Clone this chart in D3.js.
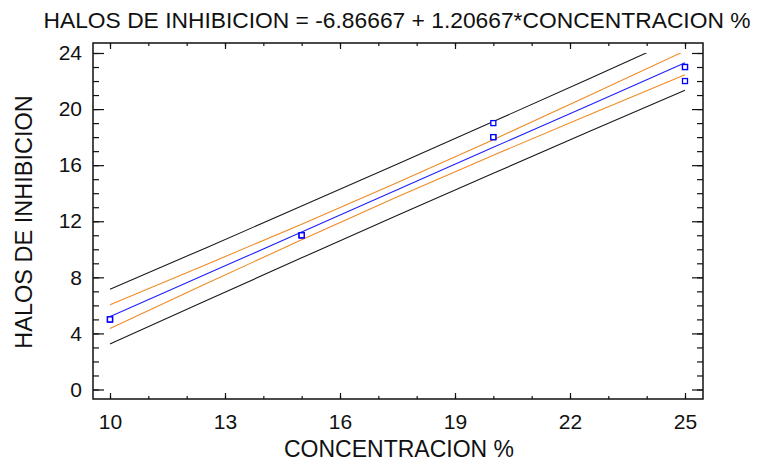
<!DOCTYPE html>
<html lang="es">
<head>
<meta charset="UTF-8">
<title>Halos de inhibicion</title>
<script src="https://cdn.jsdelivr.net/npm/d3@7/dist/d3.min.js"></script>
<style>
    body { margin: 0; background: #fff; }
    svg { font-family: "Liberation Sans", Arial, sans-serif; }
    .axis path { display: none; }
    .axis line { stroke: #111; stroke-width: 1.2px; }
    .axis text { font-size: 21px; fill: #111; }
    path.band { fill: none; stroke-width: 1.1px; }
</style>
</head>
<body>
<svg width="757" height="468"></svg>
<script>
    // observed points
    let concX = [10, 10, 10, 15, 15, 15, 20, 20, 20, 25, 25, 25]
    let halosY = [5, 5, 5, 11, 11, 11, 19, 18, 18, 23, 23, 22]

    // fitted line and limits, read along the x range
    let gridX = [10, 12.5, 15, 17.5, 20, 22.5, 25]
    let fitY = [5.20, 8.22, 11.23, 14.25, 17.27, 20.28, 23.30]
    let confLow = [4.35, 7.54, 10.68, 13.74, 16.71, 19.60, 22.45]
    let confHigh = [6.05, 8.90, 11.79, 14.76, 17.82, 20.97, 24.15]
    let predLow = [3.25, 6.33, 9.39, 12.42, 15.42, 18.40, 21.35]
    let predHigh = [7.15, 10.10, 13.08, 16.08, 19.11, 22.17, 25.25]

    let xTicks = [10, 13, 16, 19, 22, 25]
    let yTicks = [0, 4, 8, 12, 16, 20, 24]

    let svg = d3.select('svg')
    let frame = {left: 93, right: 703, top: 43, bottom: 399}

    let xScale = d3.scaleLinear().domain([10, 25]).range([110, 685])
    let yScale = d3.scaleLinear().domain([0, 24]).range([389.5, 53])

    let xMinor = d3.range(10, 25.01, 1)
    let yMinor = d3.range(0, 24.01, 1)

    // minor ticks first, majors on top
    svg.append('g').attr('class', 'axis')
        .attr('transform', 'translate(0,' + frame.bottom + ')')
        .call(d3.axisBottom(xScale).tickValues(xMinor).tickSize(-3).tickFormat(''))
    svg.append('g').attr('class', 'axis')
        .attr('transform', 'translate(0,' + frame.bottom + ')')
        .call(d3.axisBottom(xScale).tickValues(xTicks).tickSize(-6).tickPadding(15).tickFormat(d3.format('d')))
    svg.append('g').attr('class', 'axis')
        .attr('transform', 'translate(0,' + frame.top + ')')
        .call(d3.axisTop(xScale).tickValues(xMinor).tickSize(-3).tickFormat(''))
    svg.append('g').attr('class', 'axis')
        .attr('transform', 'translate(0,' + frame.top + ')')
        .call(d3.axisTop(xScale).tickValues(xTicks).tickSize(-6).tickFormat(''))

    svg.append('g').attr('class', 'axis')
        .attr('transform', 'translate(' + frame.left + ',0)')
        .call(d3.axisLeft(yScale).tickValues(yMinor).tickSize(-6).tickFormat(''))
    svg.append('g').attr('class', 'axis')
        .attr('transform', 'translate(' + frame.left + ',0)')
        .call(d3.axisLeft(yScale).tickValues(yTicks).tickSize(-11).tickPadding(11).tickFormat(d3.format('d')))
    svg.append('g').attr('class', 'axis')
        .attr('transform', 'translate(' + frame.right + ',0)')
        .call(d3.axisRight(yScale).tickValues(yMinor).tickSize(-6).tickFormat(''))
    svg.append('g').attr('class', 'axis')
        .attr('transform', 'translate(' + frame.right + ',0)')
        .call(d3.axisRight(yScale).tickValues(yTicks).tickSize(-11).tickFormat(''))

    svg.append('rect')
        .attr('x', frame.left).attr('y', frame.top)
        .attr('width', frame.right - frame.left).attr('height', frame.bottom - frame.top)
        .attr('fill', 'none').attr('stroke', '#111').attr('stroke-width', 1.5)

    // limits stop at the top of the y range
    svg.append('clipPath').attr('id', 'clip').append('rect')
        .attr('x', frame.left).attr('y', yScale(24))
        .attr('width', frame.right - frame.left).attr('height', yScale(0) - yScale(24))

    let bandLine = function (vals) {
        return d3.line()
            .x(function (d, i) { return xScale(gridX[i]) })
            .y(function (d) { return yScale(d) })
            .curve(d3.curveNatural)(vals)
    }

    let bands = [
        {vals: predHigh, color: '#1a1a1a'},
        {vals: predLow, color: '#1a1a1a'},
        {vals: confHigh, color: '#f08a24'},
        {vals: confLow, color: '#f08a24'},
        {vals: fitY, color: '#1f1fff'}
    ]
    let plot = svg.append('g').attr('clip-path', 'url(#clip)')
    plot.selectAll('path.band').data(bands).enter().append('path')
        .attr('class', 'band')
        .attr('d', function (d) { return bandLine(d.vals) })
        .attr('stroke', function (d) { return d.color })

    svg.append('g').selectAll('rect').data(concX).enter().append('rect')
        .attr('x', function (d) { return xScale(d) - 2.5 })
        .attr('y', function (d, i) { return yScale(halosY[i]) - 2.5 })
        .attr('width', 5).attr('height', 5)
        .attr('fill', '#fff').attr('stroke', '#0000ff').attr('stroke-width', 1.3)

    // titles
    svg.append('text').attr('x', 397).attr('y', 28).attr('text-anchor', 'middle')
        .style('font-size', '22.8px').attr('fill', '#111')
        .text('HALOS DE INHIBICION = -6.86667 + 1.20667*CONCENTRACION %')
    svg.append('text').attr('x', 399).attr('y', 457).attr('text-anchor', 'middle')
        .style('font-size', '23px').attr('fill', '#111')
        .text('CONCENTRACION %')
    svg.append('text').attr('transform', 'translate(32,222) rotate(-90)')
        .attr('text-anchor', 'middle')
        .style('font-size', '23.5px').attr('fill', '#111')
        .text('HALOS DE INHIBICION')
</script>
</body>
</html>
